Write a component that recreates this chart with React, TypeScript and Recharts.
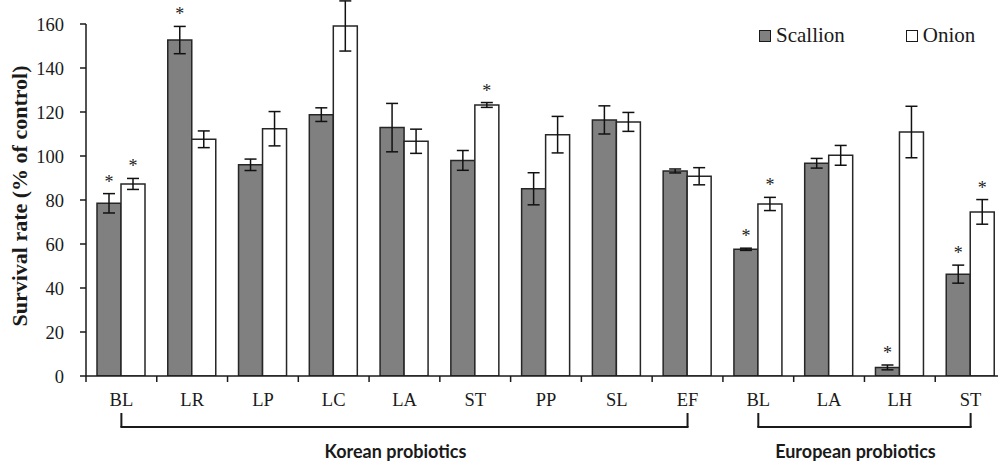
import React from 'react';
import { BarChart, Bar, XAxis, YAxis, ErrorBar, Legend, LabelList, Label } from 'recharts';

const categories = ['BL', 'LR', 'LP', 'LC', 'LA', 'ST', 'PP', 'SL', 'EF', 'BL', 'LA', 'LH', 'ST'];
const scallion = [78.5, 152.7, 96, 118.8, 112.9, 98, 85.1, 116.4, 93.2, 57.6, 96.7, 3.9, 46.3];
const scallionErr = [4.4, 6.2, 2.6, 3.1, 11, 4.5, 7.3, 6.4, 0.9, 0.5, 2.2, 1.1, 4.1];
const onion = [87.3, 107.6, 112.4, 159.1, 106.7, 123.2, 109.7, 115.5, 90.8, 78.2, 100.3, 110.9, 74.6];
const onionErr = [2.5, 3.8, 7.8, 11.4, 5.5, 1.1, 8.3, 4.3, 3.9, 3, 4.5, 11.7, 5.6];
// significance markers (*)
const scallionSig = [true, true, false, false, false, false, false, false, false, true, false, true, true];
const onionSig = [true, false, false, false, false, true, false, false, false, true, false, false, true];
const yTicks = [0, 20, 40, 60, 80, 100, 120, 140, 160];
const groups = [
  { label: 'Korean probiotics', from: 0, to: 8 },
  { label: 'European probiotics', from: 9, to: 12 },
];

const data = categories.map((name, i) => ({
  name,
  scallion: scallion[i],
  scallionErr: scallionErr[i],
  onion: onion[i],
  onionErr: onionErr[i],
}));

const W = 1010;
const H = 463;
const margin = { top: 24, right: 4, left: 0, bottom: 0 };
const Y_AXIS_W = 86;
const X_AXIS_H = 87;
const PLOT_W = W - margin.left - margin.right - Y_AXIS_W;
const PLOT_H = H - margin.top - margin.bottom - X_AXIS_H;
const BAND = PLOT_W / categories.length;
const AXIS_Y = margin.top + PLOT_H;
const PX_PER_UNIT = PLOT_H / 160;

const INK = '#1a1a1a';
const SERIF = "'Liberation Serif', 'Times New Roman', serif";
const SANS = "Lato, 'Open Sans', sans-serif";

const series = [
  { key: 'scallion', name: 'Scallion', fill: '#808080' },
  { key: 'onion', name: 'Onion', fill: '#ffffff' },
];

const CategoryTick = ({ x, index, payload }: any) => {
  const group = groups.find((g) => g.from === index || g.to === index);
  return (
    <g>
      {index === 0 && (
        <line x1={x - BAND / 2} y1={AXIS_Y} x2={x - BAND / 2} y2={AXIS_Y + 6} stroke={INK} strokeWidth={1.5} />
      )}
      <line x1={x + BAND / 2} y1={AXIS_Y} x2={x + BAND / 2} y2={AXIS_Y + 6} stroke={INK} strokeWidth={1.5} />
      <text x={x} y={AXIS_Y + 30} textAnchor="middle" fontFamily={SERIF} fontSize={18.5} fill={INK}>
        {payload.value}
      </text>
      {group && (
        <line x1={x} y1={AXIS_Y + 37} x2={x} y2={AXIS_Y + 51} stroke={INK} strokeWidth={2} />
      )}
      {group && group.from === index && (
        <>
          <line x1={x - 1} y1={AXIS_Y + 51} x2={x + (group.to - group.from) * BAND + 1} y2={AXIS_Y + 51} stroke={INK} strokeWidth={2} />
          <text
            x={x + ((group.to - group.from) * BAND) / 2 - 9}
            y={AXIS_Y + 82}
            textAnchor="middle"
            fontFamily={SANS}
            fontWeight={700}
            fontSize={18}
            fill={INK}
          >
            {group.label}
          </text>
        </>
      )}
    </g>
  );
};

const makeStar = (sig: boolean[], err: number[]) => (props: any) => {
  const { x, y, width, index } = props;
  if (!sig[index]) return null;
  const top = y - err[index] * PX_PER_UNIT;
  return (
    <text x={x + width / 2} y={top - 6} textAnchor="middle" fontFamily={SERIF} fontSize={18} fill="#222222">
      *
    </text>
  );
};

const YTitle = (props: any) => {
  const vb = props.viewBox || { y: margin.top, height: PLOT_H };
  const cy = vb.y + vb.height / 2 - 4;
  return (
    <text
      x={19}
      y={cy}
      transform={`rotate(-90, 19, ${cy})`}
      textAnchor="middle"
      dominantBaseline="central"
      fontFamily={SERIF}
      fontWeight={700}
      fontSize={22}
      fill={INK}
    >
      Survival rate (% of control)
    </text>
  );
};

const LegendBox = () => (
  <div style={{ display: 'flex', alignItems: 'center', fontFamily: SERIF, fontSize: 21, lineHeight: '21px', color: INK }}>
    {series.map((s, i) => (
      <div key={s.key} style={{ display: 'flex', alignItems: 'center', marginRight: i === 0 ? 61 : 0 }}>
        <span
          style={{
            display: 'inline-block',
            width: 10,
            height: 10,
            background: s.fill,
            border: `1.5px solid ${INK}`,
            marginRight: 5,
          }}
        />
        <span>{s.name}</span>
      </div>
    ))}
  </div>
);

export default function App() {
  return (
    <div style={{ position: 'absolute', left: 0, top: 0, width: 998, height: 463, overflow: 'hidden', background: '#fff' }}>
      <BarChart width={W} height={H} data={data} margin={margin} barGap={0} barSize={24}>
        <XAxis
          dataKey="name"
          interval={0}
          height={X_AXIS_H}
          tickLine={false}
          axisLine={{ stroke: INK, strokeWidth: 1.5 }}
          tick={<CategoryTick />}
        />
        <YAxis
          width={Y_AXIS_W}
          domain={[0, 160]}
          ticks={yTicks}
          allowDataOverflow
          tickSize={6}
          tickMargin={16}
          axisLine={{ stroke: INK, strokeWidth: 1.5 }}
          tickLine={{ stroke: INK, strokeWidth: 1.5 }}
          tick={{ fontFamily: SERIF, fontSize: 18.5, fill: INK }}
        >
          <Label content={<YTitle />} />
        </YAxis>
        <Legend
          layout="horizontal"
          verticalAlign="middle"
          align="center"
          wrapperStyle={{ top: 25, left: 759, width: 'auto' }}
          content={() => <LegendBox />}
        />
        <Bar dataKey="scallion" name="Scallion" fill="#808080" stroke="#262626" strokeWidth={1.5} isAnimationActive={false}>
          <ErrorBar dataKey="scallionErr" width={6} stroke="#111" strokeWidth={1.5} />
          <LabelList dataKey="scallion" content={makeStar(scallionSig, scallionErr)} />
        </Bar>
        <Bar dataKey="onion" name="Onion" fill="#ffffff" stroke="#262626" strokeWidth={1.5} isAnimationActive={false}>
          <ErrorBar dataKey="onionErr" width={6} stroke="#111" strokeWidth={1.5} />
          <LabelList dataKey="onion" content={makeStar(onionSig, onionErr)} />
        </Bar>
      </BarChart>
    </div>
  );
}
